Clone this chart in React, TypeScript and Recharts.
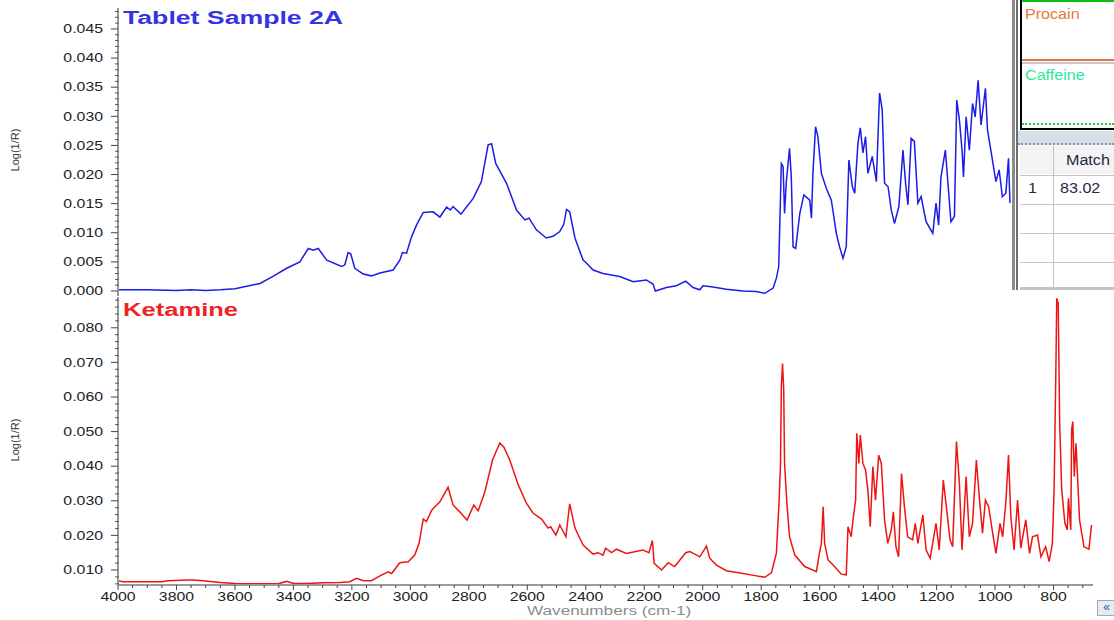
import React from 'react';
import { LineChart, Line, XAxis, YAxis } from 'recharts';

// Tablet Sample 2A spectrum: [wavenumber (cm-1), Log(1/R)]
const sampleSpectrum: [number, number][] = [
  [4000, 0.0002], [3900, 0.0002], [3800, 0.0001], [3750, 0.0002], [3700, 0.0001], [3650, 0.0002],
  [3600, 0.0004], [3560, 0.0008], [3514, 0.0013], [3470, 0.0025], [3423, 0.0039], [3378, 0.005],
  [3349, 0.0073], [3332, 0.007], [3315, 0.0073], [3286, 0.0053], [3235, 0.0042], [3224, 0.0045],
  [3213, 0.0066], [3204, 0.0064], [3190, 0.0039], [3161, 0.0029], [3133, 0.0026], [3104, 0.0031],
  [3059, 0.0036], [3036, 0.0053], [3027, 0.0066], [3013, 0.0065], [2996, 0.0093], [2979, 0.0113],
  [2956, 0.0135], [2922, 0.0136], [2899, 0.0127], [2876, 0.0144], [2863, 0.0139], [2854, 0.0145],
  [2827, 0.0132], [2802, 0.0148], [2785, 0.0159], [2757, 0.0188], [2734, 0.0251], [2722, 0.0253],
  [2708, 0.0219], [2671, 0.0185], [2637, 0.0139], [2608, 0.0122], [2594, 0.0125], [2569, 0.0105],
  [2535, 0.0091], [2512, 0.0094], [2489, 0.0102], [2475, 0.0115], [2466, 0.014], [2455, 0.0136],
  [2437, 0.0091], [2426, 0.0076], [2409, 0.0053], [2398, 0.0048], [2375, 0.0036], [2341, 0.003],
  [2284, 0.0025], [2238, 0.0016], [2193, 0.0019], [2170, 0.0012], [2162, 0.0], [2124, 0.0006],
  [2090, 0.0009], [2058, 0.0017], [2033, 0.0006], [2010, 0.0002], [1999, 0.0009], [1965, 0.0007],
  [1919, 0.0003], [1862, 0.0], [1816, -0.0001], [1788, -0.0004], [1759, 0.0005], [1748, 0.0022],
  [1740, 0.0042], [1736, 0.012], [1731, 0.0219], [1725, 0.0214], [1720, 0.0133], [1714, 0.0188],
  [1703, 0.0245], [1697, 0.0196], [1691, 0.0076], [1682, 0.0073], [1668, 0.0133], [1654, 0.0165],
  [1634, 0.0156], [1628, 0.0125], [1623, 0.0202], [1614, 0.0282], [1606, 0.0265], [1594, 0.0202],
  [1577, 0.0176], [1560, 0.0156], [1543, 0.0099], [1532, 0.0076], [1520, 0.0056], [1509, 0.0076],
  [1500, 0.0225], [1488, 0.0179], [1480, 0.0168], [1469, 0.0254], [1461, 0.028], [1452, 0.0237],
  [1443, 0.0265], [1435, 0.0202], [1420, 0.0231], [1406, 0.0188], [1395, 0.034], [1386, 0.0311],
  [1378, 0.0185], [1366, 0.0179], [1355, 0.0139], [1344, 0.0116], [1329, 0.0145], [1315, 0.0242],
  [1306, 0.0185], [1298, 0.0148], [1287, 0.0262], [1276, 0.0257], [1264, 0.0151], [1253, 0.0162],
  [1236, 0.0119], [1213, 0.0099], [1202, 0.0151], [1193, 0.0113], [1185, 0.0196], [1170, 0.0242],
  [1162, 0.0191], [1151, 0.0119], [1139, 0.0128], [1131, 0.0328], [1122, 0.0294], [1113, 0.0242],
  [1108, 0.0196], [1099, 0.0299], [1088, 0.0242], [1077, 0.0322], [1068, 0.0299], [1058, 0.0362],
  [1048, 0.0285], [1033, 0.0348], [1026, 0.0277], [1011, 0.0231], [997, 0.0188], [986, 0.0208],
  [975, 0.0162], [963, 0.0168], [954, 0.0228], [949, 0.0151],
];

// Ketamine library spectrum: [wavenumber (cm-1), Log(1/R)]
const ketamineSpectrum: [number, number][] = [
  [4000, 0.0068], [3980, 0.0066], [3850, 0.0066], [3830, 0.0069], [3760, 0.0071], [3740, 0.0071],
  [3700, 0.0068], [3650, 0.0064], [3600, 0.0061], [3500, 0.006], [3450, 0.0061], [3423, 0.0067],
  [3400, 0.0061], [3350, 0.0061], [3300, 0.0063], [3240, 0.0064], [3207, 0.0066], [3184, 0.0076],
  [3161, 0.0069], [3133, 0.0069], [3104, 0.0083], [3076, 0.0095], [3064, 0.009], [3036, 0.0121],
  [3007, 0.0124], [2985, 0.0143], [2970, 0.0177], [2956, 0.0247], [2945, 0.024], [2927, 0.0273],
  [2899, 0.0297], [2871, 0.0339], [2854, 0.0288], [2831, 0.0268], [2806, 0.0244], [2783, 0.0288],
  [2768, 0.0271], [2745, 0.0326], [2719, 0.0418], [2694, 0.0467], [2680, 0.0455], [2660, 0.0418],
  [2631, 0.0346], [2603, 0.0293], [2580, 0.0264], [2551, 0.0247], [2529, 0.0221], [2520, 0.0225],
  [2502, 0.0201], [2489, 0.023], [2468, 0.0196], [2455, 0.0291], [2437, 0.0221], [2409, 0.0172],
  [2375, 0.0146], [2358, 0.015], [2341, 0.0143], [2332, 0.0163], [2312, 0.015], [2295, 0.016],
  [2261, 0.0148], [2205, 0.0158], [2184, 0.015], [2172, 0.0185], [2166, 0.0119], [2141, 0.01],
  [2118, 0.0121], [2096, 0.011], [2078, 0.0129], [2058, 0.015], [2044, 0.0153], [2027, 0.0146],
  [2010, 0.0138], [1987, 0.0169], [1976, 0.0134], [1953, 0.0114], [1919, 0.0098], [1862, 0.009],
  [1816, 0.0083], [1788, 0.0079], [1765, 0.0092], [1748, 0.0148], [1739, 0.0293], [1734, 0.0403],
  [1731, 0.063], [1727, 0.0697], [1723, 0.0625], [1720, 0.0408], [1712, 0.0293], [1703, 0.0196],
  [1685, 0.0143], [1651, 0.011], [1611, 0.0095], [1602, 0.0143], [1594, 0.0177], [1588, 0.0283],
  [1583, 0.0177], [1571, 0.0129], [1549, 0.011], [1526, 0.0088], [1509, 0.0086], [1503, 0.0225],
  [1492, 0.0196], [1486, 0.0245], [1477, 0.0302], [1473, 0.0495], [1466, 0.0408], [1461, 0.049],
  [1452, 0.0408], [1443, 0.0389], [1435, 0.0331], [1427, 0.0225], [1418, 0.0399], [1409, 0.0302],
  [1398, 0.0432], [1389, 0.0408], [1378, 0.0245], [1367, 0.0177], [1355, 0.0216], [1348, 0.0268],
  [1339, 0.0167], [1330, 0.0138], [1320, 0.0379], [1310, 0.0283], [1299, 0.0196], [1282, 0.0187],
  [1273, 0.0235], [1264, 0.0177], [1247, 0.0259], [1236, 0.0158], [1222, 0.0134], [1202, 0.0235],
  [1191, 0.0158], [1177, 0.036], [1168, 0.0293], [1154, 0.0187], [1145, 0.0167], [1132, 0.0471],
  [1122, 0.0351], [1113, 0.0158], [1099, 0.037], [1088, 0.0196], [1077, 0.0235], [1064, 0.0418],
  [1054, 0.0312], [1043, 0.0206], [1033, 0.0302], [1022, 0.0283], [1008, 0.0206], [997, 0.0148],
  [983, 0.0235], [974, 0.0196], [963, 0.0297], [954, 0.0432], [946, 0.0254], [935, 0.0158],
  [923, 0.0302], [912, 0.0163], [895, 0.0245], [882, 0.0148], [872, 0.0196], [855, 0.0201],
  [843, 0.0138], [827, 0.0167], [815, 0.0124], [804, 0.0177], [798, 0.0331], [792, 0.0678],
  [789, 0.0885], [784, 0.0871], [779, 0.0524], [772, 0.0331], [761, 0.0235], [753, 0.0216],
  [749, 0.0307], [741, 0.0216], [738, 0.0505], [734, 0.0529], [729, 0.037], [723, 0.0466],
  [719, 0.0389], [711, 0.0245], [696, 0.0167], [679, 0.016], [670, 0.023],
];

const xMajorTicks = [4000, 3800, 3600, 3400, 3200, 3000, 2800, 2600, 2400, 2200, 2000, 1800, 1600, 1400, 1200, 1000, 800];
const sampleYTicks = [0, 0.005, 0.01, 0.015, 0.02, 0.025, 0.03, 0.035, 0.04, 0.045];
const ketamineYTicks = [0.01, 0.02, 0.03, 0.04, 0.05, 0.06, 0.07, 0.08];

const X_DOMAIN: [number, number] = [665, 4000];
const SAMPLE_DOMAIN: [number, number] = [-0.00086, 0.0486];
const KETAMINE_DOMAIN: [number, number] = [0.00566, 0.0889];

const FONT = 'Arial, "Liberation Sans", sans-serif';
const STRETCH = 1.32;

const toRows = (pairs: [number, number][]) => pairs.map(([wn, v]) => ({ wn, v }));
const sampleRows = toRows(sampleSpectrum);
const ketamineRows = toRows(ketamineSpectrum);

function minorSteps(lo: number, hi: number, step: number, scale: number): number[] {
  const out: number[] = [];
  for (let i = Math.ceil(lo * scale / step); i * step <= hi * scale; i++) out.push((i * step) / scale);
  return out;
}
const sampleYAll = minorSteps(SAMPLE_DOMAIN[0], SAMPLE_DOMAIN[1], 1, 1000).filter((t) => t >= 0);
const ketamineYAll = minorSteps(KETAMINE_DOMAIN[0], KETAMINE_DOMAIN[1], 2, 1000);
const xAll = minorSteps(700, 4000, 50, 1);

const isIn = (list: number[], v: number) => list.some((m) => Math.abs(m - v) < 1e-9);

function makeYTick(majors: number[]) {
  return (props: any) => {
    const { x, y, payload } = props;
    const v = payload.value as number;
    if (!isIn(majors, v)) {
      return <line x1={x - 3} x2={x + 1} y1={y} y2={y} stroke="#555" strokeWidth={1} />;
    }
    return (
      <g>
        <line x1={x - 7} x2={x} y1={y} y2={y} stroke="#444" strokeWidth={1} />
        <text
          transform={`translate(${x - 15},${y}) scale(${STRETCH},1)`}
          textAnchor="end"
          dominantBaseline="central"
          fontSize={12}
          fontFamily={FONT}
          fill="#222"
        >
          {v.toFixed(3)}
        </text>
      </g>
    );
  };
}

const XTick = (props: any) => {
  const { x, y, payload } = props;
  const v = payload.value as number;
  if (!isIn(xMajorTicks, v)) {
    return <line x1={x} x2={x} y1={y} y2={y + 3} stroke="#444" strokeWidth={1} />;
  }
  return (
    <g>
      <line x1={x} x2={x} y1={y} y2={y + 5} stroke="#444" strokeWidth={1} />
      <text
        transform={`translate(${x},${y + 16}) scale(${STRETCH},1)`}
        textAnchor="middle"
        fontSize={12}
        fontFamily={FONT}
        fill="#222"
      >
        {v}
      </text>
    </g>
  );
};

const SampleYTick = makeYTick(sampleYTicks);
const KetamineYTick = makeYTick(ketamineYTicks);

const abs = (o: React.CSSProperties): React.CSSProperties => ({ position: 'absolute', ...o });

const stretched = (o: React.CSSProperties): React.CSSProperties => ({
  position: 'absolute',
  whiteSpace: 'nowrap',
  transformOrigin: 'left top',
  transform: `scaleX(${STRETCH})`,
  fontFamily: FONT,
  ...o,
});

function SidePanel() {
  const rowLines = [175, 204, 233, 262];
  return (
    <div style={abs({ left: 1012, top: 0, width: 102, height: 290, background: '#ffffff', overflow: 'hidden' })}>
      <div style={abs({ left: 0, top: 0, width: 3, height: 290, background: '#8a8a8a' })} />
      <div style={abs({ left: 4, top: 0, width: 2, height: 290, background: '#6e6e6e' })} />
      <div style={abs({ left: 8, top: 0, width: 94, height: 128, borderLeft: '2px solid #000', borderBottom: '2px solid #000', background: '#fff' })} />
      <div style={abs({ left: 10, top: 0, width: 92, height: 2, background: '#10c010' })} />
      <div style={stretched({ left: 13, top: 6, fontSize: 14, color: '#e8783a', transform: 'scaleX(1.15)' })}>Procain</div>
      <div style={abs({ left: 10, top: 59, width: 92, height: 2, background: '#e07a3a' })} />
      <div style={abs({ left: 10, top: 62, width: 92, height: 2, background: '#c8c8c8' })} />
      <div style={stretched({ left: 13, top: 67, fontSize: 14, color: '#2ee89a', transform: 'scaleX(1.15)' })}>Caffeine</div>
      <div style={abs({ left: 10, top: 123, width: 92, height: 0, borderTop: '2px dotted #22cc44' })} />
      <div style={abs({ left: 6, top: 131, width: 96, height: 12, background: '#d6dee8', borderBottom: '2px dotted #8a94a0' })} />
      <div style={abs({ left: 8, top: 146, width: 94, height: 28, background: '#f3f3f3' })} />
      {rowLines.map((t) => (
        <div key={t} style={abs({ left: 8, top: t, width: 94, height: 1, background: '#c4c4c4' })} />
      ))}
      <div style={abs({ left: 8, top: 287, width: 94, height: 3, background: '#c4c4c4' })} />
      <div style={abs({ left: 41, top: 146, width: 1, height: 141, background: '#c4c4c4' })} />
      <div style={stretched({ left: 54, top: 152, fontSize: 14, color: '#1e2a40', transform: 'scaleX(1.15)' })}>Match</div>
      <div style={stretched({ left: 16, top: 180, fontSize: 14, color: '#1e2a40', transform: 'scaleX(1.15)' })}>1</div>
      <div style={stretched({ left: 48, top: 180, fontSize: 14, color: '#1e2a40', transform: 'scaleX(1.15)' })}>83.02</div>
    </div>
  );
}

export default function App() {
  return (
    <div style={{ position: 'absolute', left: 0, top: 0, width: 1114, height: 620, background: '#fff', overflow: 'hidden', fontFamily: FONT }}>
      <div style={abs({ left: 0, top: 0 })}>
        <LineChart width={1114} height={300} data={sampleRows} margin={{ top: 8, right: 21, bottom: 4, left: 0 }}>
          <XAxis
            dataKey="wn"
            type="number"
            domain={X_DOMAIN}
            reversed
            allowDataOverflow
            height={0}
            tick={false}
            tickLine={false}
            axisLine={{ stroke: '#c6c6c6', strokeWidth: 3 }}
          />
          <YAxis
            type="number"
            domain={SAMPLE_DOMAIN}
            allowDataOverflow
            width={118}
            ticks={sampleYAll}
            interval={0}
            tickSize={0}
            tickMargin={0}
            tickLine={false}
            tick={SampleYTick}
            axisLine={{ stroke: '#9a9a9a', strokeWidth: 2 }}
          />
          <Line dataKey="v" type="linear" stroke="#1c1ce6" strokeWidth={1.5} dot={false} isAnimationActive={false} />
        </LineChart>
      </div>
      <div style={abs({ left: 0, top: 297 })}>
        <LineChart width={1114} height={323} data={ketamineRows} margin={{ top: 0, right: 21, bottom: 0, left: 0 }}>
          <XAxis
            dataKey="wn"
            type="number"
            domain={X_DOMAIN}
            reversed
            allowDataOverflow
            height={35}
            ticks={xAll}
            interval={0}
            tickSize={0}
            tickMargin={0}
            tickLine={false}
            tick={XTick}
            axisLine={{ stroke: '#9a9a9a', strokeWidth: 2 }}
          />
          <YAxis
            type="number"
            domain={KETAMINE_DOMAIN}
            allowDataOverflow
            width={118}
            ticks={ketamineYAll}
            interval={0}
            tickSize={0}
            tickMargin={0}
            tickLine={false}
            tick={KetamineYTick}
            axisLine={{ stroke: '#9a9a9a', strokeWidth: 2 }}
          />
          <Line dataKey="v" type="linear" stroke="#ee1414" strokeWidth={1.5} dot={false} isAnimationActive={false} />
        </LineChart>
      </div>

      <div style={stretched({ left: 123, top: 9, fontSize: 18, lineHeight: '18px', fontWeight: 'bold', color: '#3434e2', transform: 'scaleX(1.48)' })}>
        Tablet Sample 2A
      </div>
      <div style={stretched({ left: 123, top: 301, fontSize: 18, lineHeight: '18px', fontWeight: 'bold', color: '#ee2424', transform: 'scaleX(1.42)' })}>
        Ketamine
      </div>

      <div style={abs({ left: 15, top: 150, transform: 'translate(-50%, -50%) rotate(-90deg)', fontSize: 11, color: '#333', whiteSpace: 'nowrap' })}>
        Log(1/R)
      </div>
      <div style={abs({ left: 15, top: 440, transform: 'translate(-50%, -50%) rotate(-90deg)', fontSize: 11, color: '#333', whiteSpace: 'nowrap' })}>
        Log(1/R)
      </div>

      <div style={stretched({ left: 527, top: 603, fontSize: 13, color: '#8c8c8c' })}>Wavenumbers (cm-1)</div>

      <SidePanel />

      <div style={abs({ left: 1097, top: 600, width: 17, height: 14, border: '1px solid #9aa8b8', background: '#e4ecf4', color: '#3a5a90', fontSize: 12, lineHeight: '13px', textAlign: 'center' })}>
        «
      </div>
    </div>
  );
}
